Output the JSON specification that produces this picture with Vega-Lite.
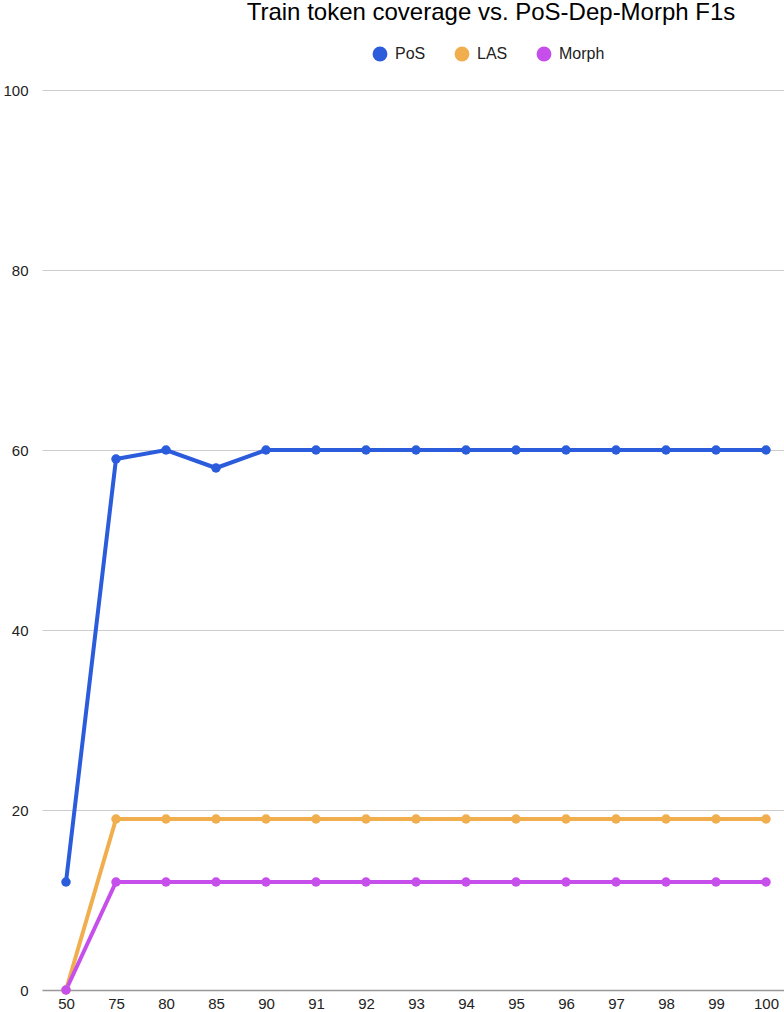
{
  "$schema": "https://vega.github.io/schema/vega-lite/v6.json",
  "autosize": {"type": "none"},
  "padding": {"left": 42, "top": 90, "right": 0, "bottom": 22},
  "width": 742,
  "height": 900,
  "background": "#ffffff",
  "config": {
    "font": "Liberation Sans",
    "view": {"stroke": null}
  },
  "title": {
    "text": "Train token coverage vs. PoS-Dep-Morph F1s",
    "anchor": "middle",
    "frame": "group",
    "dx": 78,
    "offset": 21,
    "fontSize": 24,
    "fontWeight": "normal",
    "color": "#000000",
    "font": "Liberation Sans"
  },
  "data": {
    "values": [
      {"cov": "50", "series": "PoS", "f1": 12},
      {"cov": "75", "series": "PoS", "f1": 59},
      {"cov": "80", "series": "PoS", "f1": 60},
      {"cov": "85", "series": "PoS", "f1": 58},
      {"cov": "90", "series": "PoS", "f1": 60},
      {"cov": "91", "series": "PoS", "f1": 60},
      {"cov": "92", "series": "PoS", "f1": 60},
      {"cov": "93", "series": "PoS", "f1": 60},
      {"cov": "94", "series": "PoS", "f1": 60},
      {"cov": "95", "series": "PoS", "f1": 60},
      {"cov": "96", "series": "PoS", "f1": 60},
      {"cov": "97", "series": "PoS", "f1": 60},
      {"cov": "98", "series": "PoS", "f1": 60},
      {"cov": "99", "series": "PoS", "f1": 60},
      {"cov": "100", "series": "PoS", "f1": 60},
      {"cov": "50", "series": "LAS", "f1": 0},
      {"cov": "75", "series": "LAS", "f1": 19},
      {"cov": "80", "series": "LAS", "f1": 19},
      {"cov": "85", "series": "LAS", "f1": 19},
      {"cov": "90", "series": "LAS", "f1": 19},
      {"cov": "91", "series": "LAS", "f1": 19},
      {"cov": "92", "series": "LAS", "f1": 19},
      {"cov": "93", "series": "LAS", "f1": 19},
      {"cov": "94", "series": "LAS", "f1": 19},
      {"cov": "95", "series": "LAS", "f1": 19},
      {"cov": "96", "series": "LAS", "f1": 19},
      {"cov": "97", "series": "LAS", "f1": 19},
      {"cov": "98", "series": "LAS", "f1": 19},
      {"cov": "99", "series": "LAS", "f1": 19},
      {"cov": "100", "series": "LAS", "f1": 19},
      {"cov": "50", "series": "Morph", "f1": 0},
      {"cov": "75", "series": "Morph", "f1": 12},
      {"cov": "80", "series": "Morph", "f1": 12},
      {"cov": "85", "series": "Morph", "f1": 12},
      {"cov": "90", "series": "Morph", "f1": 12},
      {"cov": "91", "series": "Morph", "f1": 12},
      {"cov": "92", "series": "Morph", "f1": 12},
      {"cov": "93", "series": "Morph", "f1": 12},
      {"cov": "94", "series": "Morph", "f1": 12},
      {"cov": "95", "series": "Morph", "f1": 12},
      {"cov": "96", "series": "Morph", "f1": 12},
      {"cov": "97", "series": "Morph", "f1": 12},
      {"cov": "98", "series": "Morph", "f1": 12},
      {"cov": "99", "series": "Morph", "f1": 12},
      {"cov": "100", "series": "Morph", "f1": 12}
    ]
  },
  "mark": {"type": "line", "strokeWidth": 4, "point": {"size": 90, "filled": true, "opacity": 1}},
  "encoding": {
    "x": {
      "field": "cov",
      "type": "ordinal",
      "sort": ["50","75","80","85","90","91","92","93","94","95","96","97","98","99","100"],
      "scale": {"type": "point", "padding": 0.42, "align": 0.5714},
      "axis": {
        "title": null,
        "labelAngle": 0,
        "labelFontSize": 15,
        "labelColor": "#222222",
        "labelPadding": 6,
        "ticks": false,
        "domain": true,
        "domainColor": "#999999",
        "domainWidth": 1.5,
        "grid": false
      }
    },
    "y": {
      "field": "f1",
      "type": "quantitative",
      "scale": {"domain": [0, 100], "nice": false, "zero": true},
      "axis": {
        "title": null,
        "values": [0, 20, 40, 60, 80, 100],
        "labelFontSize": 15,
        "labelColor": "#222222",
        "labelPadding": 14,
        "ticks": false,
        "domain": false,
        "grid": true,
        "gridColor": "#cccccc",
        "gridWidth": 1
      }
    },
    "color": {
      "field": "series",
      "type": "nominal",
      "sort": ["PoS", "LAS", "Morph"],
      "scale": {"domain": ["PoS", "LAS", "Morph"], "range": ["#2b5cdc", "#f1ae4f", "#c64fec"]},
      "legend": {
        "title": null,
        "orient": "none",
        "direction": "horizontal",
        "legendX": 330,
        "legendY": -44,
        "symbolType": "circle",
        "symbolSize": 220,
        "symbolStrokeWidth": 0,
        "symbolOpacity": 1,
        "labelFontSize": 16,
        "labelColor": "#222222",
        "labelOffset": 7,
        "columnPadding": 28
      }
    }
  }
}
